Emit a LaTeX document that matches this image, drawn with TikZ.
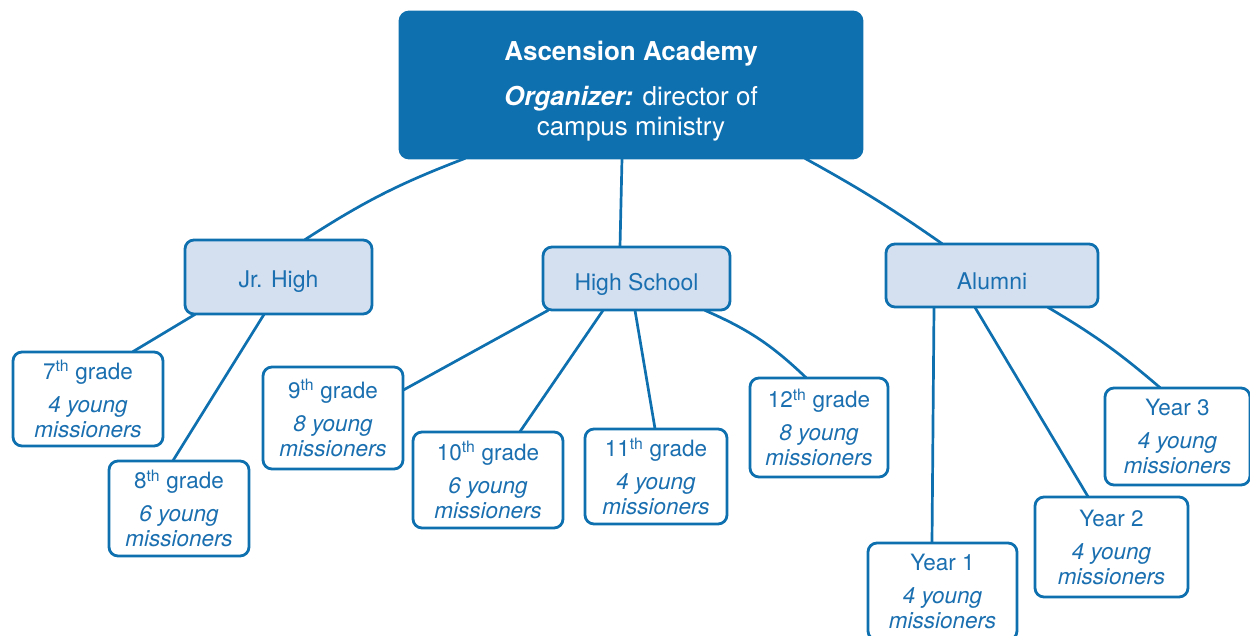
\documentclass[tikz,border=0pt]{standalone}
\usepackage{fontspec}
\setmainfont{TeX Gyre Heros}
\usetikzlibrary{calc}
\definecolor{mainblue}{HTML}{0F70B0}
\definecolor{lightfill}{HTML}{D4E0F0}
\definecolor{textblue}{HTML}{1A6FB0}
\tikzset{
  x=1pt, y=-1pt,
  boxline/.style={draw=mainblue, line width=2.8pt, rounded corners=9pt},
  topbox/.style={boxline, fill=mainblue, inner sep=0pt},
  toptext/.style={text=white, align=center, inner sep=0pt,
    font=\fontsize{26}{30}\selectfont},
  midbox/.style={boxline, fill=lightfill, text=textblue, align=center, inner sep=0pt,
    text depth=0pt, font=\fontsize{23}{25}\selectfont},
  leafbox/.style={boxline, fill=white, text=textblue, align=center, inner sep=0pt,
    font=\fontsize{22.5}{25}\selectfont},
  link/.style={draw=mainblue, line width=2.7pt, line cap=round},
}
\newcommand{\leaftext}[2]{#1\\[8pt]\textit{#2}\\\textit{missioners}}
\begin{document}
\begin{tikzpicture}
\useasboundingbox (0,0) rectangle (1250,635);
% root
\node[topbox, minimum width=462pt, minimum height=146pt] (top) at (631,85) {};
\node[toptext] (toplabel) at ([yshift=-6pt]top.center)
  {\textbf{Ascension Academy}\\[15pt]\textbf{\textit{Organizer:}} director of\\campus ministry};
% second level
\node[midbox, text height=20pt, minimum width=187pt, minimum height=74pt] (jr) at (278.5,277) {Jr. High};
\node[midbox, text height=23pt, minimum width=187pt, minimum height=63pt] (hs) at (636.5,278.5) {High School};
\node[midbox, text height=27pt, minimum width=212pt, minimum height=63pt] (al) at (992,275.5) {Alumni};
% leaves
\node[leafbox, minimum width=150pt, minimum height=94pt] (g7) at (88,399) {\leaftext{7\textsuperscript{th} grade}{4 young}};
\node[leafbox, minimum width=140pt, minimum height=95pt] (g8) at (179,508.5) {\leaftext{8\textsuperscript{th} grade}{6 young}};
\node[leafbox, minimum width=140pt, minimum height=102pt] (g9) at (333,418) {\leaftext{9\textsuperscript{th} grade}{8 young}};
\node[leafbox, minimum width=150pt, minimum height=96pt] (g10) at (488,480) {\leaftext{10\textsuperscript{th} grade}{6 young}};
\node[leafbox, minimum width=142pt, minimum height=95pt] (g11) at (656,476.5) {\leaftext{11\textsuperscript{th} grade}{4 young}};
\node[leafbox, minimum width=138pt, minimum height=99pt] (g12) at (819,427.5) {\leaftext{12\textsuperscript{th} grade}{8 young}};
\node[leafbox, minimum width=149pt, minimum height=97pt] (y1) at (942.5,591.5) {\leaftext{Year 1}{4 young}};
\node[leafbox, minimum width=153pt, minimum height=100pt] (y2) at (1111.5,547) {\leaftext{Year 2}{4 young}};
\node[leafbox, minimum width=145pt, minimum height=97pt] (y3) at (1177.5,436.5) {\leaftext{Year 3}{4 young}};
% connectors
\draw[link] ([xshift=-166pt,yshift=1pt]top.south) to[bend right=6] ([xshift=26.5pt,yshift=-1pt]jr.north);
\draw[link] ([xshift=-9pt,yshift=1pt]top.south) -- ([xshift=-16.5pt,yshift=-1pt]hs.north);
\draw[link] ([xshift=174pt,yshift=1pt]top.south) to[bend left=3] ([xshift=-50pt,yshift=-1pt]al.north);
\draw[link] ([xshift=-83.5pt,yshift=1pt]jr.south) -- ([xshift=45pt,yshift=-1pt]g7.north);
\draw[link] ([xshift=-14.5pt,yshift=1pt]jr.south) -- ([xshift=-6pt,yshift=-1pt]g8.north);
\draw[link] ([xshift=-88.5pt,yshift=1pt]hs.south) -- ([xshift=-1pt,yshift=28pt]g9.east);
\draw[link] ([xshift=-33.5pt,yshift=1pt]hs.south) -- ([xshift=32pt,yshift=-1pt]g10.north);
\draw[link] ([xshift=-1.5pt,yshift=1pt]hs.south) -- ([xshift=-1pt,yshift=-1pt]g11.north);
\draw[link] ([xshift=68.5pt,yshift=1pt]hs.south) to[bend left=10] ([xshift=-13pt,yshift=-1pt]g12.north);
\draw[link] ([xshift=-58pt,yshift=1pt]al.south) -- ([xshift=-10.5pt,yshift=-1pt]y1.north);
\draw[link] ([xshift=-17pt,yshift=1pt]al.south) -- ([xshift=-23.5pt,yshift=-1pt]y2.north);
\draw[link] ([xshift=56pt,yshift=1pt]al.south) to[bend left=5] ([xshift=-17.5pt,yshift=-1pt]y3.north);
\end{tikzpicture}
\end{document}
